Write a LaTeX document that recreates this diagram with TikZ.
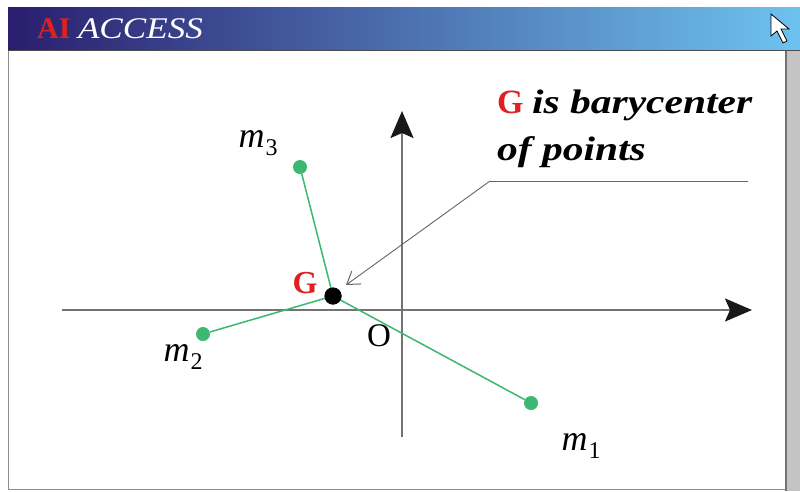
\documentclass[tikz,border=0pt]{standalone}
\usepackage{fontspec}
\setmainfont{Liberation Serif}
\usetikzlibrary{arrows.meta}
\definecolor{navy}{HTML}{2A1E6E}
\definecolor{skyb}{HTML}{6EC2F0}
\definecolor{ptgreen}{HTML}{3DB870}
\definecolor{gred}{HTML}{E02020}
\definecolor{frameg}{HTML}{C4C4C4}
\newcommand{\mlabtext}[1]{\fontsize{36}{36}\selectfont\itshape m\kern1pt\raisebox{-8pt}{\fontsize{24}{24}\selectfont\upshape #1}}
\tikzset{
  axis/.style={draw=black!55, line width=2pt, -{Stealth[length=27pt,width=23pt,inset=5pt,color=black!90]}},
  seg/.style={draw=ptgreen, line width=1.5pt},
  pt/.style={circle, fill=ptgreen, inner sep=0pt, minimum size=14pt},
  gpt/.style={circle, fill=black, inner sep=0pt, minimum size=17pt},
  mlab/.style={inner sep=0pt},
  call/.style={draw=black!60, line width=0.9pt},
}
\begin{document}
\begin{tikzpicture}[x=1pt,y=-1pt]
\useasboundingbox (0,0) rectangle (800,491);
% frame
\fill[white] (0,0) rectangle (800,491);
\fill[frameg] (785,50) rectangle (800,491);
\draw[black!55, line width=2pt] (786,50) -- (786,491);
\draw[black!45, line width=1pt] (8,50) -- (8,489) -- (785,489);
\shade[left color=navy, right color=skyb] (8,7) rectangle (800,50);
\draw[black!70, line width=1pt] (8,50) -- (800,50);
\node[anchor=west, inner sep=0pt] (title) at (37,29)
  {\fontsize{30}{30}\selectfont\textcolor{gred}{\textbf{AI}} \textcolor{white}{\scalebox{1.17}[1]{\textit{ACCESS}}}};
% cursor
\filldraw[fill=white, draw=black, line width=0.8pt]
  (771,14) -- (771,36) -- (777,31) -- (783,43) -- (787,41) -- (781,29) -- (789,29) -- cycle;
% axes
\coordinate (xs) at (62,310);
\coordinate (xe) at (752,310);
\coordinate (ys) at (402,437);
\coordinate (ye) at (402,111);
\draw[axis] (xs) -- (xe);
\draw[axis] (ys) -- (ye);
\node[font=\fontsize{33}{33}\selectfont, inner sep=0pt] (O) at (379,336) {O};
% points
\node[gpt] (G) at (333,296) {};
\node[pt] (m1) at (531,403) {};
\node[pt] (m2) at (203,334) {};
\node[pt] (m3) at (300,167) {};
\draw[seg] (m1) -- (G.center);
\draw[seg] (m2) -- (G.center);
\draw[seg] (m3) -- (G.center);
\node[gpt] at (G) {};
\node[mlab] (l1) at (581,446) {\mlabtext{1}};
\node[mlab] (l2) at (183,357) {\mlabtext{2}};
\node[mlab] (l3) at (258,143) {\mlabtext{3}};
\node[font=\fontsize{32}{32}\selectfont\bfseries, text=gred, inner sep=0pt] (Gl) at (305,283) {G};
% callout
\coordinate (c1) at (748,181);
\coordinate (c2) at (490,181);
\coordinate (ct) at (346,285);
\draw[call] (c1) -- (c2);
\draw[call, -{Straight Barb[length=12pt,width=16pt,line width=1pt]}] (c2) -- (ct);
\node[anchor=west, inner sep=0pt] (t1) at (497,105)
  {\fontsize{34}{34}\selectfont\textcolor{gred}{\textbf{G}} \scalebox{1.22}[1]{\textbf{\textit{is barycenter}}}};
\node[anchor=west, inner sep=0pt] (t2) at (497,152)
  {\fontsize{34}{34}\selectfont\scalebox{1.22}[1]{\textbf{\textit{of points}}}};
\end{tikzpicture}
\end{document}
